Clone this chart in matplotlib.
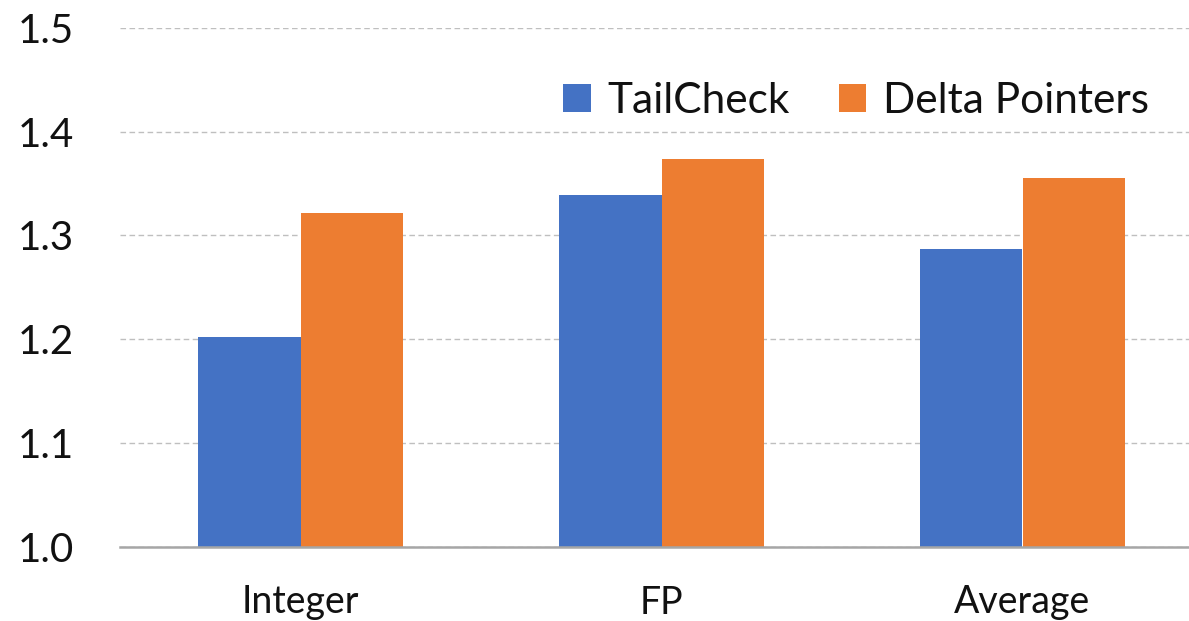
import matplotlib
matplotlib.use("Agg")
import matplotlib.pyplot as plt
import numpy as np
from matplotlib.patches import Patch

plt.rcParams['font.family'] = ['Lato', 'DejaVu Sans']

categories = ["Integer", "FP", "Average"]
tailcheck = [1.202, 1.339, 1.287]
delta_pointers = [1.322, 1.374, 1.355]
yticks = [1.0, 1.1, 1.2, 1.3, 1.4, 1.5]
ytick_labels = ["1.0", "1.1", "1.2", "1.3", "1.4", "1.5"]

blue = "#4472C4"
orange = "#ED7D31"

fig = plt.figure(figsize=(11.89, 6.21), dpi=100)
ax = fig.add_axes([120 / 1189, 1 - 547 / 621, 1083 / 1189, (547 - 27.7) / 621])

x = np.arange(len(categories))
w = 0.285
base = 1.0
ax.bar(x - w / 2, np.array(tailcheck) - base, w, bottom=base, color=blue, zorder=3)
ax.bar(x + w / 2, np.array(delta_pointers) - base, w, bottom=base, color=orange, zorder=3)

ax.set_xlim(-0.5, 2.5)
ax.set_ylim(1.0, 1.5)
ax.set_yticks(yticks)
ax.set_yticklabels(ytick_labels)
ax.set_xticks(x)
ax.set_xticklabels(categories)

ax.grid(axis='y', color='#BFBFBF', linestyle=(0, (4, 2.5)), linewidth=1.0, zorder=0)
for s in ['top', 'right', 'left']:
    ax.spines[s].set_visible(False)
ax.spines['bottom'].set_color('#A6A6A6')
ax.spines['bottom'].set_linewidth(1.8)
ax.spines['bottom'].set_zorder(4)

ax.tick_params(axis='y', length=0, pad=33, labelsize=29, labelcolor='#111111')
ax.tick_params(axis='x', length=0, pad=27, labelsize=27, labelcolor='#111111')

handles = [Patch(facecolor=blue, label="TailCheck"), Patch(facecolor=orange, label="Delta Pointers")]
fig.legend(handles=handles, loc='center left', bbox_to_anchor=(563 / 1189, 1 - 101 / 621),
           ncol=2, frameon=False, fontsize=30.5, handlelength=0.65, handleheight=0.65,
           handletextpad=0.4, columnspacing=1.15, borderaxespad=0, borderpad=0,
           labelcolor='#111111')

fig.savefig("out.png", dpi=100)
